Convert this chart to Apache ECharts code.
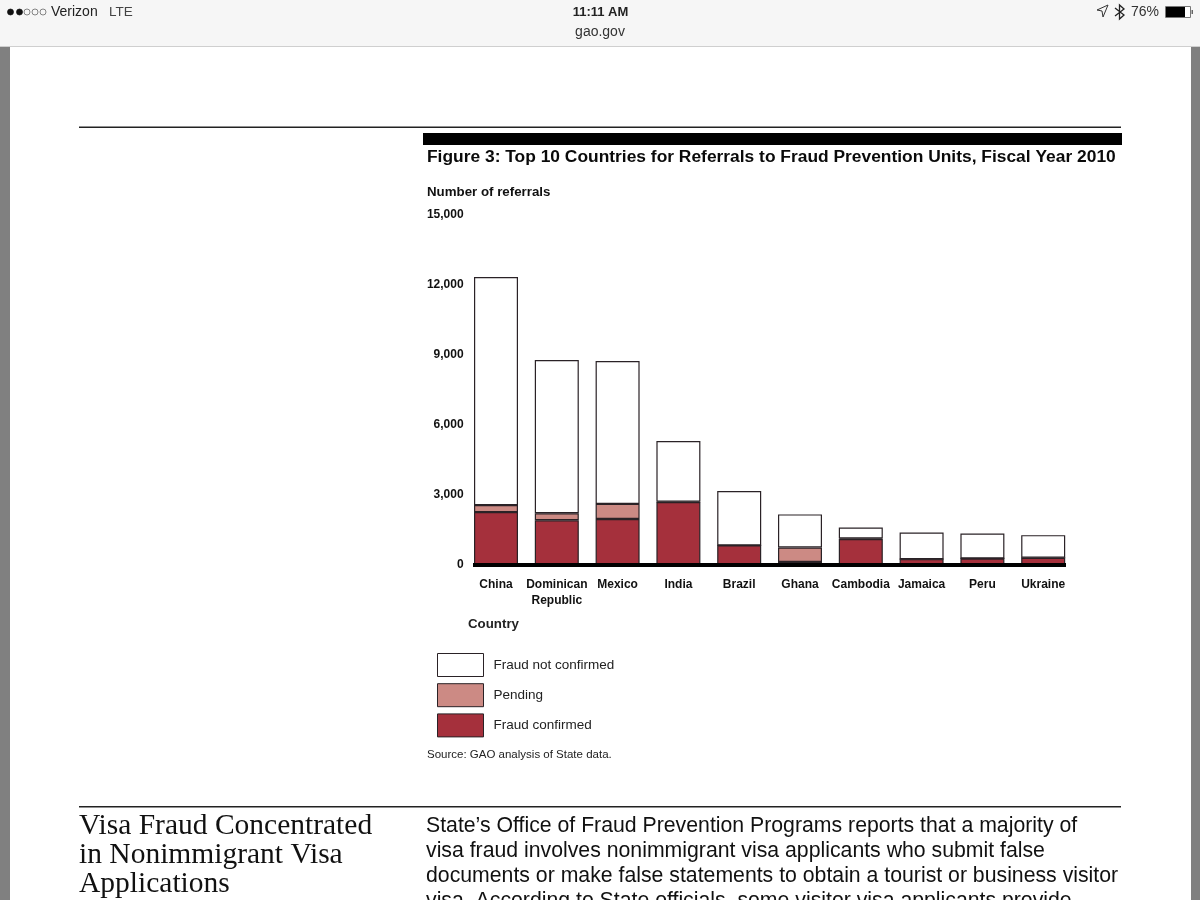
<!DOCTYPE html>
<html>
<head>
<meta charset="utf-8">
<style>html,body{margin:0;padding:0;background:#fff}#c{width:1200px;height:900px}</style>
<script src="https://cdn.jsdelivr.net/npm/echarts@6/dist/echarts.min.js"></script>
</head>
<body>
<div id="c"></div>
<script>
const categories = ['China','Dominican\nRepublic','Mexico','India','Brazil','Ghana','Cambodia','Jamaica','Peru','Ukraine'];
const fraudConfirmed = [2250,1900,1950,2680,820,110,1090,230,260,290];
const pending = [300,300,650,20,0,620,30,0,0,0];
const fraudNotConfirmed = [9790,6580,6130,2600,2330,1420,470,1140,1070,970];
const headingLines = ['Visa Fraud Concentrated','in Nonimmigrant Visa','Applications'];
const bodyLines = ["State\u2019s Office of Fraud Prevention Programs reports that a majority of",
  'visa fraud involves nonimmigrant visa applicants who submit false',
  'documents or make false statements to obtain a tourist or business visitor',
  'visa. According to State officials, some visitor visa applicants provide'];

const SANS = '"Liberation Sans", Arial, sans-serif';
const SERIF = '"Liberation Serif", serif';
const txt = (text,x,y,font,fill,align) => ({type:'text',z:20,style:{text,x,y,font:font+' '+SANS,fill:fill||'#111',align:align||'left',verticalAlign:'middle'}});
const rect = (x,y,w,h,fill,stroke) => ({type:'rect',z:10,shape:{x,y,width:w,height:h},style:{fill,stroke:stroke||null,lineWidth:stroke?1:0}});
const dot = (cx,filled) => ({type:'circle',z:20,shape:{cx,cy:12,r:3},style:{fill:filled?'#111':'none',stroke:filled?'#111':'#555',lineWidth:0.7}});

const graphic = [
  rect(0,46,10,854,'#808080'),
  rect(1191,46,9,854,'#808080'),
  rect(0,0,1200,46,'#f6f6f6'),
  rect(0,46,1200,1,'#cfcfcf'),
  dot(10.5,true),dot(19.5,true),dot(27,false),dot(35,false),dot(43,false),
  txt('Verizon',51,12.5,'14px','#222'),
  txt('LTE',109,12.5,'13.5px','#444'),
  txt('11:11 AM',600.5,12.5,'bold 13px','#222','center'),
  txt('gao.gov',600,32.5,'14px','#333','center'),
  {type:'polygon',z:20,shape:{points:[[1097,10],[1108,5],[1103,17],[1102,11]]},style:{fill:'none',stroke:'#333',lineWidth:1}},
  {type:'polyline',z:20,shape:{points:[[1115,8],[1124,15],[1119.5,19],[1119.5,5],[1124,9],[1115,16]]},style:{fill:'none',stroke:'#222',lineWidth:1.3}},
  txt('76%',1131,12.5,'14px','#333'),
  rect(1165.5,6.5,25,11,'#fff','#777'),
  rect(1166,7,19,10,'#000'),
  rect(1191.5,10,1.5,4,'#666'),
  rect(79,126.5,1042,1.5,'#222'),
  rect(423,133,699,12,'#000'),
  txt('Figure 3: Top 10 Countries for Referrals to Fraud Prevention Units, Fiscal Year 2010',427,157,'bold 17.4px','#0a0a0a'),
  txt('Number of referrals',427,192,'bold 13.3px','#111'),
  rect(473,563,593,4,'#000'),
  txt('Country',468,624.5,'bold 13.3px','#222'),
  txt('Source: GAO analysis of State data.',427,754.5,'11.5px','#222'),
  rect(79,806,1042,1.5,'#222'),
  ...headingLines.map((t,i)=>({type:'text',z:20,style:{text:t,x:79,y:826+i*29,font:'29.5px '+SERIF,fill:'#111',verticalAlign:'middle'}})),
  ...bodyLines.map((t,i)=>txt(t,426,826+i*25,'21.25px','#111'))
];

const border = {borderColor:'#2a2226',borderWidth:1.2};
const mk = (name,data,color) => ({name,type:'bar',stack:'t',data,barWidth:44,itemStyle:{color,...border},silent:true,animation:false});

const chart = echarts.init(document.getElementById('c'),null,{renderer:'canvas'});
chart.setOption({
  animation:false,
  backgroundColor:'#fff',
  grid:{left:465.6,width:608,top:215,height:349.5,containLabel:false},
  xAxis:{type:'category',data:categories,axisLine:{show:false},axisTick:{show:false},
    axisLabel:{interval:0,margin:12,color:'#111',fontFamily:SANS,fontWeight:'bold',fontSize:12,lineHeight:16}},
  yAxis:{type:'value',min:0,max:15000,interval:3000,splitLine:{show:false},axisLine:{show:false},axisTick:{show:false},
    axisLabel:{margin:2,color:'#111',fontFamily:SANS,fontWeight:'bold',fontSize:12,padding:[3,0,0,0],
      formatter:v=>v.toLocaleString('en-US')}},
  legend:{left:437,top:653,orient:'vertical',padding:0,icon:'rect',itemWidth:46,itemHeight:23,itemGap:6.2,
    data:['Fraud not confirmed','Pending','Fraud confirmed'],selectedMode:false,
    itemStyle:{borderColor:'#2a2226',borderWidth:1},
    textStyle:{color:'#222',fontFamily:SANS,fontSize:13.5,padding:[0,0,0,5]}},
  series:[
    mk('Fraud confirmed',fraudConfirmed,'#a5303c'),
    mk('Pending',pending,'#cc8a84'),
    mk('Fraud not confirmed',fraudNotConfirmed,'#ffffff')
  ],
  graphic:{elements:graphic}
});
</script>
</body>
</html>
